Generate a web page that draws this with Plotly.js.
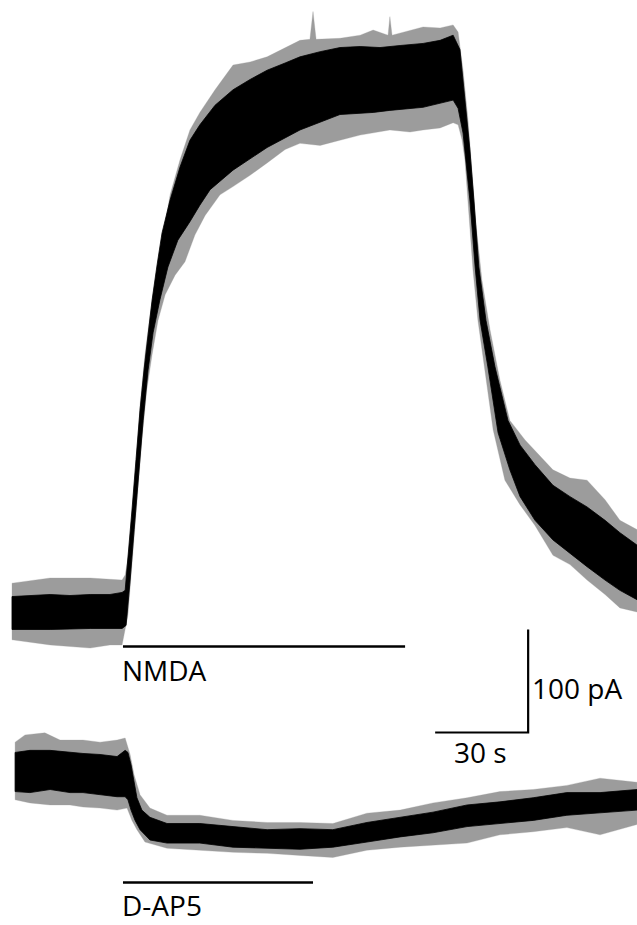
<!DOCTYPE html>
<html>
<head>
<meta charset="utf-8">
<script src="https://cdn.plot.ly/plotly-3.0.1.min.js"></script>
<style>html,body{margin:0;padding:0;background:#fff;}#chart{width:637px;height:925px;}</style>
</head>
<body>
<div id="chart"></div>
<script>
// ---------- DATA (time in s, current in pA; envelopes) ----------
// NMDA trace: dense core band, upper and lower edges
const nmdaCoreUpT = [0,5.8,12.3,18.7,25.2,31.6,35.5,36.5,37.4,38.7,40.0,41.3,42.6,43.9,45.2,46.8,48.4,51.0,54.2,57.4,60.6,65.5,71.3,76.8,82.3,88.1,92.9,99.4,105.8,112.3,118.7,125.2,132.6,138.1,142.3,144.5,146.1,147.7,149.0,150.6,152.9,155.8,160.0,163.9,168.7,174.5,180.0,185.5,191.3,196.1,201.6];
const nmdaCoreUpI = [15,16,17,16,17,17,19,21,50,99,148,196,235,269,303,337,368,400,432,458,473,492,507,517,526,533,539,544,548,549,548,550,552,555,560,546,497,449,400,335,283,238,186,162,143,123,112,102,89,77,65];
const nmdaCoreLoT = [0,12.3,25.2,35.5,36.8,38.1,39.4,40.6,42.3,43.9,45.5,47.7,50.3,53.5,57.4,60.6,63.9,71.3,82.3,92.9,105.8,116.5,121.9,132.6,142.3,143.9,145.5,147.7,149.4,151.0,153.5,156.8,160.6,163.9,168.7,174.5,180.0,185.5,191.3,196.1,201.6];
const nmdaCoreLoI = [-17,-17,-16,-16,-13,31,80,128,186,235,271,303,335,361,379,395,410,429,451,468,483,485,487,490,497,489,465,400,335,283,238,174,138,112,89,70,57,44,31,21,12];
// NMDA trace: noise spike envelope
const nmdaSpikeUpT = [0,12.3,25.2,35.5,36.5,38.1,39.7,41.3,42.9,44.5,46.5,48.4,51.0,54.2,57.4,60.6,65.5,71.3,76.8,82.3,88.1,92.9,96.1,97.1,98.1,105.8,112.3,116.5,121.3,121.9,122.6,128.4,132.6,138.1,142.3,143.9,145.5,147.1,148.4,149.7,151.6,154.2,157.4,160.6,165.5,170.3,174.5,180.0,185.5,191.3,196.1,201.6];
const nmdaSpikeUpI = [28,33,33,31,36,65,128,201,250,288,327,361,405,439,468,485,507,531,534,539,548,555,556,583,556,557,560,565,560,578,560,565,568,567,570,563,526,478,429,376,322,274,225,186,167,152,138,130,128,109,89,80];
const nmdaSpikeLoT = [0,12.3,25.2,31.6,35.5,37.4,38.7,40.3,41.9,43.5,45.2,47.1,49.4,52.6,55.8,59.0,62.3,67.1,71.3,76.8,82.3,88.1,92.9,99.4,105.8,112.3,116.5,121.9,128.4,132.6,138.1,142.3,143.9,145.2,146.1,147.4,148.7,150.3,152.6,155.2,159.0,163.9,168.7,174.5,180.0,185.5,191.3,196.1,201.6];
const nmdaSpikeLoI = [-27,-32,-35,-32,-32,-3,46,109,167,216,250,283,308,327,340,366,385,405,413,424,436,449,455,453,458,463,465,468,466,468,470,475,473,458,439,390,332,283,235,177,128,104,84,55,46,31,17,4,0];

// D-AP5 trace: dense core band
const apvCoreUpT = [1.0,5.8,12.3,18.7,22.9,28.4,33.9,36.5,37.4,38.4,39.4,40.3,41.9,44.5,50.0,60.6,71.3,82.3,92.9,103.5,114.5,125.2,135.8,146.8,157.4,168.1,179.0,189.7,201.6];
const apvCoreUpI = [19,21,21,19,18,17,15,21,19,7,-12,-25,-37,-44,-50,-50,-53,-56,-55,-56,-49,-44,-39,-32,-29,-25,-20,-20,-17];
const apvCoreLoT = [1.0,5.8,12.3,18.7,22.9,28.4,33.9,36.5,37.4,38.4,39.7,41.3,44.5,50.0,60.6,71.3,82.3,92.9,103.5,114.5,125.2,135.8,146.8,157.4,168.1,179.0,189.7,201.6];
const apvCoreLoI = [-19,-20,-17,-20,-20,-22,-24,-24,-27,-37,-47,-56,-66,-69,-69,-73,-74,-75,-73,-68,-63,-59,-53,-50,-47,-42,-40,-37];
// D-AP5 trace: noise spike envelope
const apvSpikeUpT = [1.0,4.2,10.6,15.5,22.9,28.4,33.9,36.5,38.1,39.4,41.3,44.5,50.0,60.6,71.3,82.3,92.9,103.5,114.5,125.2,135.8,146.8,157.4,168.1,179.0,189.7,201.6];
const apvSpikeUpI = [29,36,38,31,31,29,31,33,17,-3,-22,-35,-42,-42,-47,-49,-49,-50,-40,-37,-30,-25,-19,-17,-13,-6,-10];
const apvSpikeLoT = [1.0,5.8,12.3,18.7,22.9,28.4,33.9,37.1,38.7,40.3,42.9,50.0,60.6,71.3,82.3,92.9,103.5,114.5,125.2,135.8,146.8,157.4,168.1,179.0,189.7,201.6];
const apvSpikeLoI = [-27,-30,-32,-32,-34,-35,-37,-35,-47,-56,-68,-74,-76,-78,-79,-81,-83,-76,-73,-71,-69,-61,-58,-54,-61,-51];

// Drug applications (s)
const drugNames = ["NMDA", "D-AP5"];
const drugStart = [35.8, 35.8];
const drugEnd = [126.8, 97.1];

// Scale bar sizes
const scaleTime = 30;   // s
const scaleCurrent = 100; // pA
const scaleLabels = ["30 s", "100 pA"];

// ---------- LAYOUT / STYLE ----------
const W = 637, H = 925;
const sPerPx = 30 / 93, pAPerPx = 100 / 103;
const xRange = [-12 * sPerPx, 625 * sPerPx];
const yRange = [-313 * pAPerPx, 612 * pAPerPx];
const apvOffset = -160 * pAPerPx;      // vertical placement of the second trace
const scaleCornerT = 166.5, scaleCornerI = -117.0;

function band(tUp, iUp, tLo, iLo, off, color, lw) {
  const x = tUp.concat(tLo.slice().reverse());
  const y = iUp.concat(iLo.slice().reverse()).map(v => v + off);
  x.push(x[0]); y.push(y[0]);
  return {type: "scatter", mode: "lines", x: x, y: y, fill: "toself",
          fillcolor: color, line: {color: color, width: lw},
          hoverinfo: "skip", showlegend: false};
}

const spikeColor = "#9c9c9c";
const traces = [
  band(nmdaSpikeUpT, nmdaSpikeUpI, nmdaSpikeLoT, nmdaSpikeLoI, 0, spikeColor, 0.3),
  band(nmdaCoreUpT, nmdaCoreUpI, nmdaCoreLoT, nmdaCoreLoI, 0, "#000", 0.8),
  band(apvSpikeUpT, apvSpikeUpI, apvSpikeLoT, apvSpikeLoI, apvOffset, spikeColor, 0.3),
  band(apvCoreUpT, apvCoreUpI, apvCoreLoT, apvCoreLoI, apvOffset, "#000", 0.8),
  // scale bar
  {type: "scatter", mode: "lines",
   x: [scaleCornerT - scaleTime, scaleCornerT, scaleCornerT],
   y: [scaleCornerI, scaleCornerI, scaleCornerI + scaleCurrent],
   line: {color: "#000", width: 2.2}, hoverinfo: "skip", showlegend: false}
];

const barPaperY = [1 - 646.5 / H, 1 - 882.5 / H];
const labelPaperY = [1 - 670 / H, 1 - 905 / H];
const shapes = drugNames.map((n, i) => ({
  type: "line", xref: "x", yref: "paper",
  x0: drugStart[i], x1: drugEnd[i], y0: barPaperY[i], y1: barPaperY[i],
  line: {color: "#000", width: 2.5}
}));

const font = {family: "Open Sans, sans-serif", size: 28, color: "#000"};
const annotations = drugNames.map((n, i) => ({
  text: n, xref: "x", yref: "paper", x: drugStart[i] - 0.6, y: labelPaperY[i],
  xanchor: "left", yanchor: "middle", showarrow: false, font: font, borderpad: 0
}));
annotations.push({text: scaleLabels[0], xref: "x", yref: "paper",
  x: scaleCornerT - scaleTime / 2 - 0.3, y: 1 - 752 / H,
  xanchor: "center", yanchor: "middle", showarrow: false, font: font, borderpad: 0});
annotations.push({text: scaleLabels[1], xref: "x", yref: "paper",
  x: scaleCornerT + 1.0, y: 1 - 687.5 / H,
  xanchor: "left", yanchor: "middle", showarrow: false, font: font, borderpad: 0});

const layout = {
  width: W, height: H,
  margin: {l: 0, r: 0, t: 0, b: 0, pad: 0},
  paper_bgcolor: "#fff", plot_bgcolor: "#fff",
  xaxis: {range: xRange, visible: false, fixedrange: true},
  yaxis: {range: yRange, visible: false, fixedrange: true},
  shapes: shapes, annotations: annotations, showlegend: false
};

Plotly.newPlot("chart", traces, layout, {staticPlot: true, displayModeBar: false});
</script>
</body>
</html>
